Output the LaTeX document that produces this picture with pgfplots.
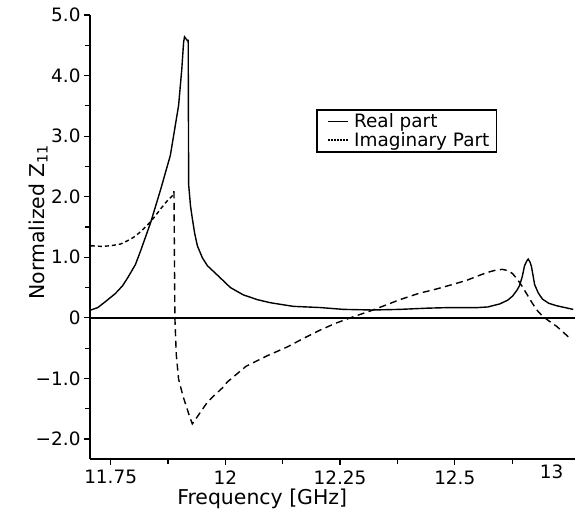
\documentclass[border=0pt]{standalone}
\usepackage{fontspec}
\setmainfont{DejaVu Sans}
\usepackage{pgfplots}
\usepackage{pgfplotstable}
\pgfplotsset{compat=1.18}

% Normalized Z11
\pgfplotstableread{
f      re
11.707 0.13
11.722 0.17
11.739 0.27
11.760 0.40
11.776 0.53
11.787 0.66
11.804 0.88
11.815 1.10
11.837 1.57
11.859 2.12
11.880 2.68
11.898 3.50
11.905 4.10
11.909 4.55
11.911 4.64
11.917 4.58
11.919 4.58
11.920 2.20
11.924 1.85
11.928 1.64
11.933 1.40
11.939 1.19
11.950 0.99
11.961 0.86
11.975 0.76
11.989 0.66
12.011 0.50
12.039 0.38
12.070 0.30
12.098 0.25
12.148 0.19
12.207 0.17
12.257 0.14
12.320 0.13
12.380 0.14
12.440 0.16
12.489 0.17
12.550 0.17
12.572 0.18
12.598 0.23
12.615 0.29
12.626 0.36
12.635 0.45
12.641 0.53
12.647 0.68
12.652 0.86
12.657 0.94
12.660 0.97
12.664 0.92
12.667 0.85
12.671 0.68
12.674 0.55
12.682 0.41
12.691 0.31
12.705 0.24
12.722 0.20
12.740 0.17
12.758 0.14
}\realpart

\pgfplotstableread{
f      im
11.707 1.19
11.730 1.18
11.750 1.19
11.772 1.22
11.786 1.27
11.800 1.33
11.815 1.42
11.830 1.53
11.845 1.66
11.859 1.80
11.872 1.92
11.885 2.02
11.888 2.09
}\imagA

\pgfplotstableread{
f      im
11.888 2.09
11.889 1.00
11.890 0.00
11.893 -0.60
11.898 -1.01
11.908 -1.30
11.917 -1.51
11.923 -1.65
11.928 -1.75
11.940 -1.62
11.961 -1.39
11.980 -1.25
11.996 -1.14
12.004 -1.06
12.045 -0.80
12.090 -0.63
12.135 -0.48
12.170 -0.34
12.207 -0.20
12.240 -0.09
12.272 0.00
12.322 0.13
12.380 0.30
12.424 0.41
12.452 0.46
12.490 0.54
12.526 0.62
12.560 0.72
12.576 0.76
12.590 0.79
12.604 0.80
12.616 0.78
12.626 0.73
12.636 0.64
12.646 0.53
12.658 0.38
12.670 0.23
12.680 0.12
12.691 0.03
12.705 -0.05
12.722 -0.14
12.750 -0.33
}\imagB

\begin{document}
\begin{tikzpicture}
\begin{axis}[
  name=ax,
  scale only axis, width=485bp, height=444bp,
  xmin=11.705, xmax=12.762, ymin=-2.33, ymax=5,
  axis lines=left, axis line style={-, line width=2bp},
  tick align=outside, major tick length=6bp, minor tick length=5bp,
  tick style={line width=1.2bp, black},
  xtick={11.75,12,12.25,12.5}, xticklabels={11.75,12,12.25,12.5},
  minor xtick={11.875,12.125,12.375,12.625},
  extra x ticks={12.711}, extra x tick labels={13},
  extra x tick style={major tick length=0pt},
  ytick={-2,-1,0,1,2,3,4,5},
  yticklabels={−2.0,−1.0,0,1.0,2.0,3.0,4.0,5.0},
  minor ytick={-1.5,-0.5,0.5,1.5,2.5,3.5,4.5},
  ticklabel style={font=\fontsize{18.5}{18.5}\selectfont},
  xticklabel style={yshift=-2bp},
  xlabel={Frequency [GHz]}, ylabel={Normalized Z\textsubscript{11}},
  label style={font=\fontsize{20.5}{20.5}\selectfont},
  xlabel style={at={(axis description cs:0.355,-0.089)}, anchor=center},
  ylabel style={at={(axis description cs:-0.107,0.534)}, anchor=center},
  legend style={at={(axis description cs:0.466,0.788)}, anchor=north west,
    draw=black, line width=1.5bp, fill=white, inner xsep=5bp, inner ysep=2bp,
    font=\fontsize{18.5}{19}\selectfont, row sep=-1bp},
  legend cell align=left,
  legend image code/.code={\path (-6bp,0bp); \draw[#1] (0bp,0bp) -- (20bp,0bp); \path (23bp,0bp);},
]
\addplot[black, line width=1.4bp, forget plot] coordinates {(11.705,0) (12.762,0)};
\addplot[black, line width=1.4bp, forget plot] table[x=f, y=re] {\realpart};
\addplot[black, line width=1.4bp, dash pattern=on 4bp off 3bp, forget plot] table[x=f, y=im] {\imagA};
\addplot[black, line width=1.4bp, dash pattern=on 7bp off 4.5bp, forget plot] table[x=f, y=im] {\imagB};
\addlegendimage{black, line width=1.4bp}
\addlegendentry{Real part}
\addlegendimage{black, line width=1.4bp, dash pattern=on 1.5bp off 1.5bp}
\addlegendentry{Imaginary Part}
\end{axis}
\path (ax.south west) ++(-90bp,-49bp) rectangle ++(583bp,508bp);
\end{tikzpicture}
\end{document}
